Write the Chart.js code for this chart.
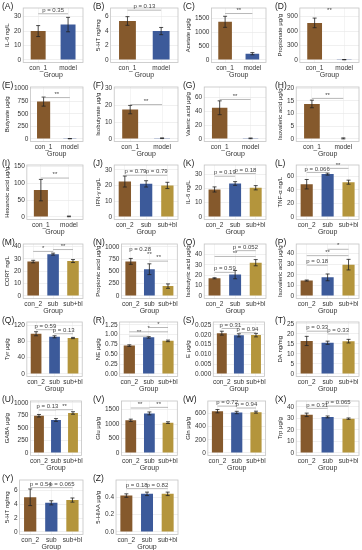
<!DOCTYPE html>
<html><head><meta charset="utf-8">
<script src="https://cdn.jsdelivr.net/npm/chart.js@4.4.0/dist/chart.umd.min.js"></script>
<style>
body{margin:0;width:362px;height:550px;background:#fff;position:relative;overflow:hidden;font-family:"Liberation Sans",Arial,sans-serif}
.lab{position:absolute;font-size:8.5px;color:#222;line-height:1}
canvas{position:absolute}
</style></head><body>
<script>
const panelIds = 'ABCDEFGHIJKLMNOPQRSTUVWXYZ'.split('');
const groups1 = ['con_1', 'model'];
const groups2 = ['con_2', 'sub', 'sub+bl'];

const yTitles = [
  'IL-6 ng/L', '5-HT ng/mg', 'Acetate μg/g', 'Propionate μg/g',
  'Butyrate μg/g', 'Isobutyrate μg/g', 'Valeric acid μg/g', 'Isovaleric acid μg/g',
  'Hexanoic acid μg/g', 'IFN-γ ng/L', 'IL-6 ng/L', 'TNF-α ng/L',
  'CORT ng/L', 'Propionic acid μg/g', 'Isobutyric acid μg/g', 'Isovaleric acid μg/g',
  'Tyr μg/g', 'NE μg/g', 'E μg/g', 'DA ng/mg',
  'GABA μg/g', 'Glu μg/g', 'Gln μg/g', 'Trp μg/g',
  '5-HT ng/mg', '5-HIAA μg/g'
];

const means = [
  [20, 24.5], [5.4, 4.0], [1380, 225], [770, 5],
  [740, 5], [17.5, 0.4], [45, 0.8], [13.8, 0.2],
  [80, 1.5], [22.5, 21, 20], [19.3, 23.5, 20.5], [48.5, 63.5, 51.5],
  [27.8, 33.8, 28.2], [705, 545, 200], [17, 20.5, 32], [14.5, 17.5, 29.5],
  [99, 91.5, 88.5], [0.72, 0.93, 0.84], [0.0208, 0.0197, 0.0198], [16.5, 15.6, 16.4],
  [745, 660, 800], [1130, 1370, 1050], [635, 615, 620], [33, 31.2, 29.7],
  [5.0, 4.2, 4.6], [0.42, 0.44, 0.44]
];

const errs = [
  [3.8, 5], [0.6, 0.5], [200, 40], [100, 3],
  [90, 3], [2.5, 0.2], [10, 0.5], [1.5, 0.2],
  [32, 1], [3.5, 2, 2], [1.8, 1.3, 1.5], [7, 1.5, 3],
  [1, 0.8, 1.2], [60, 110, 45], [0.5, 4, 3], [0.5, 3.2, 5],
  [5, 2.5, 1.5], [0.02, 0.02, 0.02], [0.001, 0.0008, 0.0009], [2.3, 0.8, 0.9],
  [25, 28, 25], [40, 50, 30], [25, 18, 15], [1.5, 0.8, 0.6],
  [1.2, 0.3, 0.3], [0.02, 0.02, 0.02]
];

const yMax = [
  36, 7.2, 1880, 1080,
  1030, 31, 75, 20.5,
  155, 33, 36.5, 77,
  42, 1060, 50, 49,
  128, 1.32, 0.0265, 26,
  1040, 1800, 790, 45,
  7.5, 0.6
];

const yTickLabels = [
  ['0', '10', '20', '30'], ['0', '2', '4', '6'], ['0', '500', '1000', '1500'], ['0', '300', '600', '900'],
  ['0', '250', '500', '750', '1000'], ['0', '10', '20', '30'], ['0', '20', '40', '60'], ['0', '5', '10', '15', '20'],
  ['0', '50', '100', '150'], ['0', '10', '20', '30'], ['0', '10', '20', '30'], ['0', '20', '40', '60'],
  ['0', '10', '20', '30', '40'], ['0', '250', '500', '750', '1000'], ['0', '10', '20', '30', '40'], ['0', '10', '20', '30', '40'],
  ['0', '40', '80', '120'], ['0.00', '0.25', '0.50', '0.75', '1.00', '1.25'], ['0.000', '0.005', '0.010', '0.015', '0.020', '0.025'], ['0', '5', '10', '15', '20', '25'],
  ['0', '250', '500', '750', '1000'], ['0', '500', '1000', '1500'], ['0', '200', '400', '600'], ['0', '10', '20', '30', '40'],
  ['0', '2', '4', '6'], ['0.0', '0.2', '0.4']
];

// [from bar, to bar, text, level, draw line]
const sigs = [
  [[0, 1, 'p = 0.35', 32, 1]],
  [[0, 1, 'p = 0.13', 6.9, 1]],
  [[0, 1, '**', 1680, 1]],
  [[0, 1, '**', 960, 0]],
  [[0, 1, '**', 820, 1]],
  [[0, 1, '**', 20.5, 1]],
  [[0, 1, '**', 57, 1]],
  [[0, 1, '**', 16, 1]],
  [[0, 1, '**', 116, 1]],
  [[0, 1, 'p = 0.79', 26.5, 1], [1, 2, 'p = 0.79', 26.5, 1]],
  [[0, 1, 'p = 0.19', 28.6, 1], [1, 2, 'p = 0.18', 30.5, 1]],
  [[0, 1, 'p = 0.066', 66, 1], [1, 2, '**', 72, 1]],
  [[0, 1, '*', 36, 1], [1, 2, '**', 37.5, 1]],
  [[0, 1, 'p = 0.28', 880, 0], [1, 1, '**', 770, 0], [1, 2, '**', 710, 1]],
  [[0, 1, 'p = 0.59', 22.7, 1], [0, 2, '**', 38, 1], [1, 2, 'p = 0.052', 43.6, 1]],
  [[0, 1, 'p = 0.18', 29, 1], [0, 2, '**', 38, 1], [1, 2, '*', 44, 1]],
  [[0, 1, 'p = 0.59', 109, 1], [1, 2, 'p = 0.13', 99, 1]],
  [[0, 1, '**', 0.96, 1], [0, 2, '*', 1.07, 1], [1, 2, '*', 1.18, 1]],
  [[0, 1, 'p = 0.31', 0.0232, 1], [1, 2, 'p = 0.94', 0.021, 1]],
  [[0, 1, 'p = 0.33', 21.4, 1], [1, 2, 'p = 0.33', 20, 1]],
  [[0, 1, 'p = 0.13', 860, 1], [1, 2, '**', 865, 1]],
  [[0, 1, '**', 1557, 1], [1, 2, '**', 1580, 1]],
  [[0, 1, 'p = 0.72', 712, 1], [1, 2, 'p = 0.94', 683, 1]],
  [[0, 1, 'p = 0.31', 38.6, 1], [1, 2, 'p = 0.065', 40.6, 1]],
  [[0, 1, 'p = 0.54', 6.4, 1], [1, 2, 'p = 0.065', 6.4, 1]],
  [[0, 1, 'p = 0.18', 0.5, 1], [1, 2, 'p = 0.82', 0.5, 1]]
];

const COLORS = { con_1: '#85592c', con_2: '#85592c', model: '#3c5a9a', sub: '#3c5a9a', 'sub+bl': '#b4953c' };
const FONT = '"Liberation Sans", Arial, sans-serif';
const colX = [1, 92, 182, 274], colW = [84, 88, 86, 87], rowH = 78.6, cellH = 79;

function makePlugin(k){
  return {
    id: 'marks' + k,
    beforeDatasetsDraw(chart){
      const a = chart.chartArea, ctx = chart.ctx;
      ctx.save();
      ctx.strokeStyle = '#c4c4c4'; ctx.lineWidth = 0.8;
      ctx.strokeRect(a.left, a.top, a.right - a.left, a.bottom - a.top);
      ctx.restore();
    },
    afterDatasetsDraw(chart){
      const y = chart.scales.y, ctx = chart.ctx;
      const meta = chart.getDatasetMeta(0);
      ctx.save();
      // error bars
      ctx.strokeStyle = '#222'; ctx.lineWidth = 0.8;
      meta.data.forEach((bar, i) => {
        const m = means[k][i], e = errs[k][i];
        const top = y.getPixelForValue(m + e), bot = y.getPixelForValue(Math.max(0, m - e));
        ctx.beginPath();
        ctx.moveTo(bar.x, top); ctx.lineTo(bar.x, bot);
        ctx.moveTo(bar.x - 2, top); ctx.lineTo(bar.x + 2, top);
        ctx.moveTo(bar.x - 2, bot); ctx.lineTo(bar.x + 2, bot);
        ctx.stroke();
      });
      // significance marks
      ctx.font = '6px ' + FONT;
      ctx.textAlign = 'center'; ctx.textBaseline = 'bottom';
      sigs[k].forEach(([i, j, txt, v, line]) => {
        const x1 = meta.data[i].x, x2 = meta.data[j].x, py = y.getPixelForValue(v);
        if(line){
          ctx.strokeStyle = '#9a9a9a'; ctx.lineWidth = 0.7;
          ctx.beginPath(); ctx.moveTo(x1, py); ctx.lineTo(x2, py); ctx.stroke();
        }
        ctx.fillStyle = '#444';
        ctx.fillText(txt, (x1 + x2) / 2, py - 0.5);
      });
      ctx.restore();
    }
  };
}

panelIds.forEach((id, k) => {
  const col = k % 4, row = Math.floor(k / 4);
  const top = row * rowH;
  const cv = document.createElement('canvas');
  cv.width = colW[col]; cv.height = cellH;
  cv.style.left = colX[col] + 'px'; cv.style.top = top + 'px';
  document.body.appendChild(cv);
  const lab = document.createElement('div');
  lab.className = 'lab'; lab.textContent = '(' + id + ')';
  lab.style.left = (colX[col] + 1) + 'px'; lab.style.top = (top + 2) + 'px';
  document.body.appendChild(lab);

  const cats = k < 9 ? groups1 : groups2;
  new Chart(cv, {
    type: 'bar',
    data: {
      labels: cats,
      datasets: [{
        data: means[k],
        backgroundColor: cats.map(c => COLORS[c]),
        barPercentage: cats.length === 2 ? 0.5 : 0.58,
        categoryPercentage: 1
      }]
    },
    options: {
      responsive: false, animation: false, devicePixelRatio: 1,
      layout: { padding: { top: 8, right: 2, left: 3, bottom: 0 } },
      plugins: { legend: { display: false }, tooltip: { enabled: false } },
      scales: {
        x: {
          grid: { color: '#ececec', lineWidth: 0.6, offset: false, drawTicks: false },
          border: { display: false },
          ticks: { font: { size: 6.5, family: FONT, lineHeight: 1 }, color: '#333', padding: 2, maxRotation: 0, autoSkip: false },
          title: { display: true, text: 'Group', font: { size: 7, family: FONT, lineHeight: 1 }, color: '#333', padding: { top: -1, bottom: 0 } }
        },
        y: {
          min: -0.05 * yMax[k], max: yMax[k],
          afterBuildTicks: ax => { ax.ticks = yTickLabels[k].map(s => ({ value: Number(s) })); },
          grid: { color: '#e6e6e6', lineWidth: 0.6, drawTicks: false },
          border: { display: false },
          ticks: { font: { size: 6.5, family: FONT }, color: '#333', padding: 2, callback: (v, i) => yTickLabels[k][i] },
          title: { display: true, text: yTitles[k], font: { size: 6, family: FONT, lineHeight: 1 }, color: '#222', padding: { top: 0, bottom: 2 } }
        }
      }
    },
    plugins: [makePlugin(k)]
  });
});
</script>
</body></html>
